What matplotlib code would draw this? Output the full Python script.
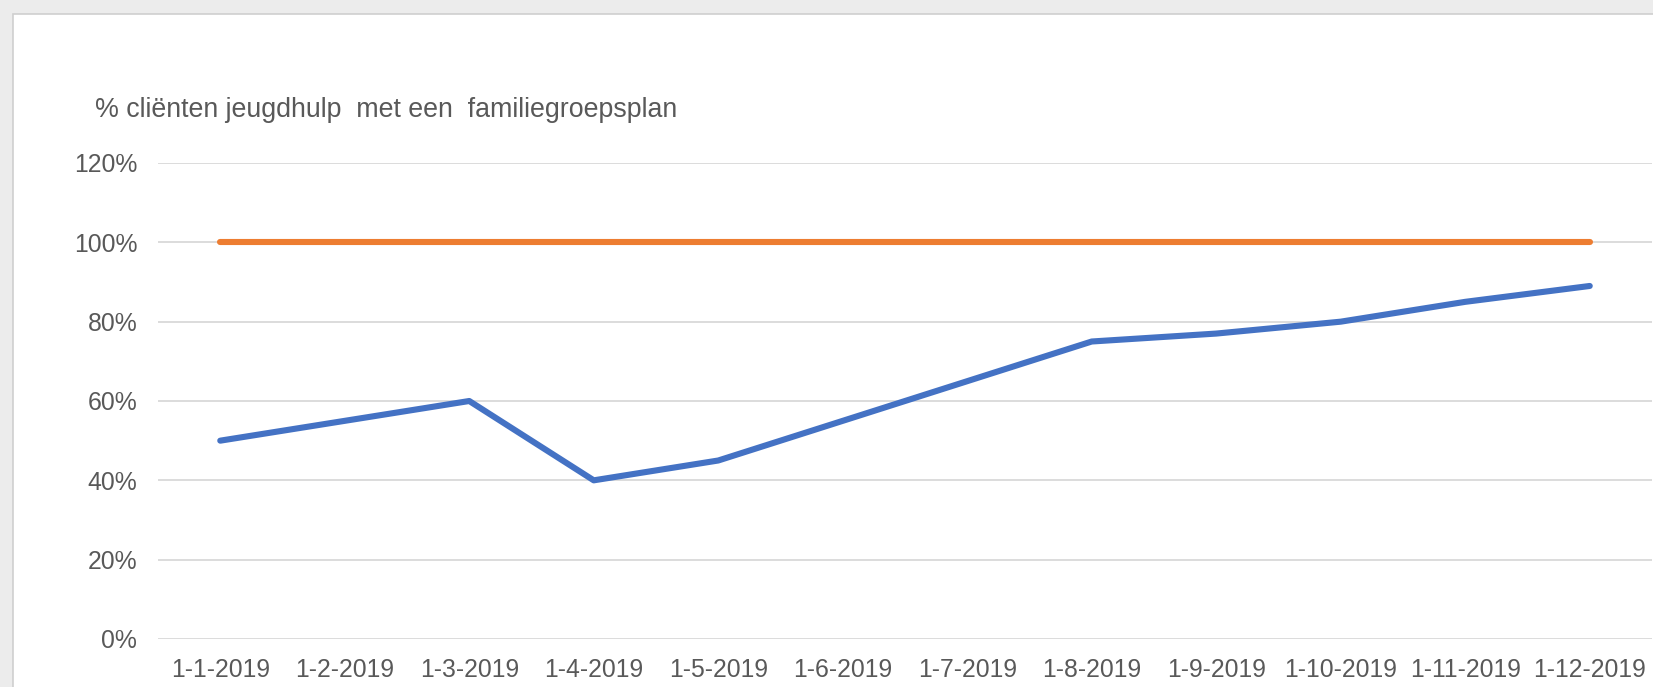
import matplotlib
matplotlib.use("Agg")
import matplotlib.pyplot as plt
from matplotlib.patches import Rectangle
from matplotlib.ticker import FuncFormatter

categories = ["1-1-2019", "1-2-2019", "1-3-2019", "1-4-2019", "1-5-2019", "1-6-2019",
              "1-7-2019", "1-8-2019", "1-9-2019", "1-10-2019", "1-11-2019", "1-12-2019"]
actual = [50, 55, 60, 40, 45, 55, 65, 75, 77, 80, 85, 89]
target = [100] * 12
yticks = [0, 20, 40, 60, 80, 100, 120]
title = "% cliënten jeugdhulp  met een  familiegroepsplan"

plt.rcParams['font.family'] = ['Liberation Sans', 'DejaVu Sans']
TXT = "#595959"

W, H = 1653, 687
fig = plt.figure(figsize=(W / 100, H / 100), dpi=100)
fig.patch.set_facecolor("#ececec")
fig.patches.append(Rectangle((13 / W, -0.1), 1.2, 1.1 - 14 / H, transform=fig.transFigure,
                             facecolor="white", edgecolor="#cfcfcf", linewidth=1.2, zorder=-5))

ax = fig.add_axes([158 / W, 1 - 639 / H, (1652 - 158) / W, (639 - 163) / H])
ax.set_zorder(2)
ax.set_facecolor("none")
x = list(range(len(categories)))
ax.plot(x, target, color="#ED7D31", linewidth=4.4, solid_capstyle="round", zorder=3)
ax.plot(x, actual, color="#4472C4", linewidth=4.4, solid_capstyle="round",
        solid_joinstyle="round", zorder=4)

ax.set_xlim(-0.5, len(categories) - 0.5)
ax.set_ylim(0, 120)
ax.set_yticks(yticks)
ax.yaxis.set_major_formatter(FuncFormatter(lambda v, p: f"{int(v)}%"))
ax.set_xticks(x)
ax.set_xticklabels(categories)
ax.grid(axis="y", color="#d9d9d9", linewidth=1.3)
ax.set_axisbelow(True)
for s in ax.spines.values():
    s.set_visible(False)
ax.tick_params(axis="both", length=0, labelsize=17.8, colors=TXT)
ax.tick_params(axis="y", pad=15)
ax.tick_params(axis="x", pad=14)

fig.text(95 / W, 1 - 110 / H, title, ha="left", va="center", fontsize=19.3, color=TXT)

fig.savefig("out.png", dpi=100, facecolor=fig.get_facecolor())
